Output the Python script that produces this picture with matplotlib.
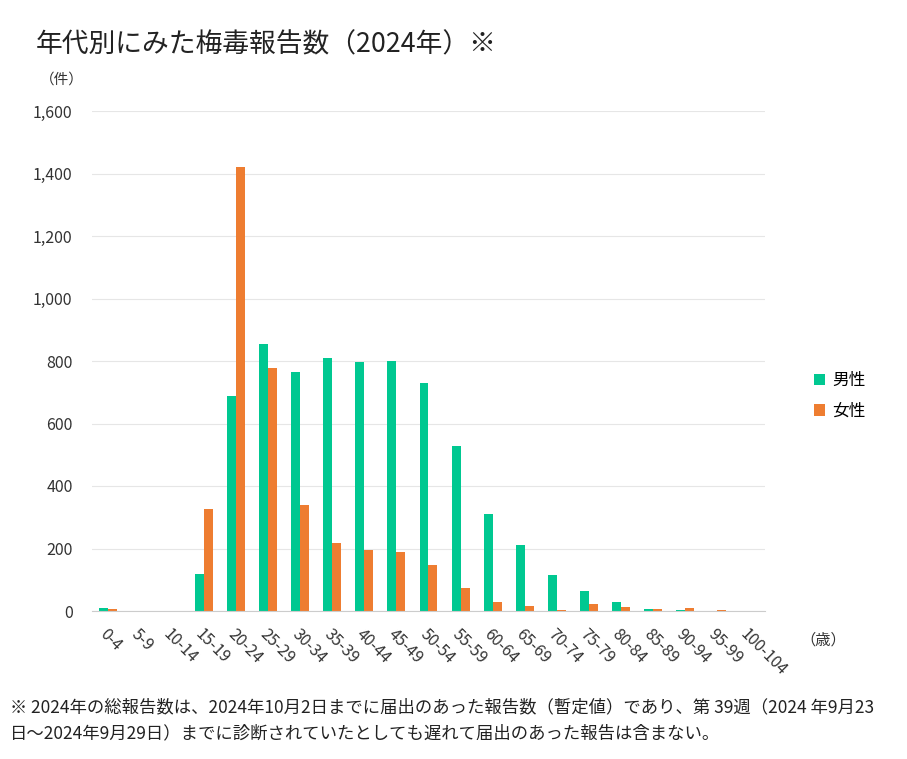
import matplotlib.pyplot as plt
import numpy as np

plt.rcParams['font.family'] = ['Noto Sans CJK JP', 'DejaVu Sans']

ages = ['0-4', '5-9', '10-14', '15-19', '20-24', '25-29', '30-34', '35-39',
        '40-44', '45-49', '50-54', '55-59', '60-64', '65-69', '70-74',
        '75-79', '80-84', '85-89', '90-94', '95-99', '100-104']
male = [9, 0, 0, 119, 688, 854, 765, 810, 797, 800, 730, 528, 310, 210,
        114, 65, 30, 8, 4, 0, 0]
female = [8, 0, 0, 325, 1420, 778, 340, 217, 195, 190, 148, 73, 30, 15,
          3, 22, 14, 8, 11, 3, 0]
yticks = [0, 200, 400, 600, 800, 1000, 1200, 1400, 1600]

green = '#00c891'
orange = '#ee7d31'

fig = plt.figure(figsize=(9.07, 7.59), dpi=100)
ax = fig.add_axes([92 / 907, 1 - 611 / 759, 673 / 907, 500 / 759])

x = np.arange(len(ages))
w = 0.28
ax.bar(x - w / 2, male, width=w, color=green, label='男性')
ax.bar(x + w / 2, female, width=w, color=orange, label='女性')

ax.set_xlim(-0.5, len(ages) - 0.5)
ax.set_ylim(0, 1600)
ax.set_yticks(yticks)
ax.set_yticklabels([f'{v:,}' for v in yticks], fontsize=11.5, color='#333333')
ax.set_xticks(x)
ax.set_xticklabels(ages, rotation=-45, ha='left', va='top',
                   rotation_mode='anchor', fontsize=11.5, color='#333333')
ax.tick_params(length=0, pad=14, axis='y')
ax.tick_params(length=0, pad=11, axis='x')
ax.grid(axis='y', color='#e6e6e6', linewidth=0.8)
ax.set_axisbelow(True)
for s in ['top', 'right', 'left']:
    ax.spines[s].set_visible(False)
ax.spines['bottom'].set_color('#cccccc')

fig.text(36 / 907, 1 - 45 / 759, '年代別にみた梅毒報告数（2024年）※',
         fontsize=19.3, va='center', color='#222222')
fig.text(40 / 907, 1 - 80 / 759, '（件）', fontsize=10.5, va='center', color='#333333')
fig.text(800 / 907, 1 - 640 / 759, '（歳）', fontsize=11, va='center', color='#333333')

ax.legend(loc='center left', bbox_to_anchor=(1.05, 0.43), frameon=False,
          fontsize=12, handlelength=0.7, handleheight=0.7, handletextpad=0.4,
          labelspacing=0.8)

note = ('※ 2024年の総報告数は、2024年10月2日までに届出のあった報告数（暫定値）であり、第 39週（2024 年9月23\n'
        '日～2024年9月29日）までに診断されていたとしても遅れて届出のあった報告は含まない。')
fig.text(10 / 907, 1 - 720 / 759, note, fontsize=12.5, va='center',
         linespacing=1.55, color='#222222')

fig.savefig('out.png', dpi=100)
